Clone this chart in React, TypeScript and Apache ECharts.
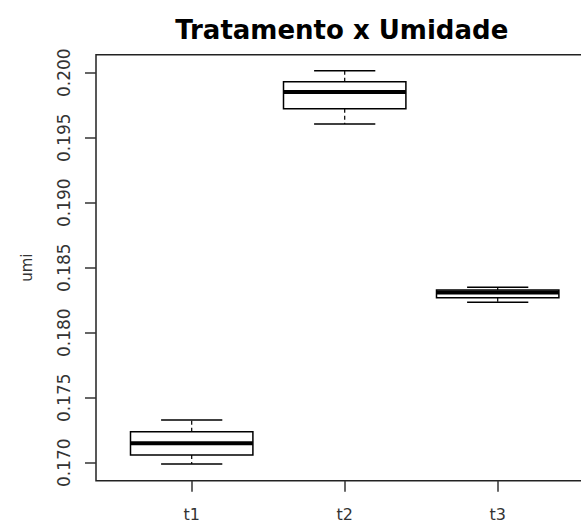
import React, { useEffect, useRef } from "react";
import * as echarts from "echarts";

// Treatment groups and their five-number summaries (humidity "umi")
const categories = ["t1", "t2", "t3"];
const whiskerLow = [0.1699, 0.19605, 0.18234];
const quartile1 = [0.17059, 0.19723, 0.18269];
const medians = [0.17149, 0.19852, 0.18309];
const quartile3 = [0.17238, 0.19931, 0.183285];
const whiskerHigh = [0.17328, 0.20015, 0.18349];

// Axis ticks
const yTicks = [0.17, 0.175, 0.18, 0.185, 0.19, 0.195, 0.2];
const xTicks = [1, 2, 3];

const FONT = "DejaVu Sans";
const INK = "#000";
const AXIS_INK = "#333";

export default function App() {
  const ref = useRef<HTMLDivElement>(null);

  useEffect(() => {
    if (!ref.current) return;
    const chart = echarts.init(ref.current, undefined, { renderer: "svg" });

    const boxData = categories.map((_, i) => [
      i + 1,
      whiskerLow[i],
      quartile1[i],
      medians[i],
      quartile3[i],
      whiskerHigh[i],
    ]);

    const renderBox = (params: any, api: any) => {
      const x = api.value(0);
      const low = api.coord([x, api.value(1)]);
      const q1 = api.coord([x, api.value(2)]);
      const med = api.coord([x, api.value(3)]);
      const q3 = api.coord([x, api.value(4)]);
      const high = api.coord([x, api.value(5)]);
      const boxW = api.size([0.8, 0])[0];
      const capW = boxW / 2;
      const cx = med[0];
      return {
        type: "group",
        children: [
          {
            type: "line",
            shape: { x1: cx, y1: q3[1], x2: cx, y2: high[1] },
            style: { stroke: INK, lineWidth: 1.2, lineDash: [4, 3] },
          },
          {
            type: "line",
            shape: { x1: cx, y1: q1[1], x2: cx, y2: low[1] },
            style: { stroke: INK, lineWidth: 1.2, lineDash: [4, 3] },
          },
          {
            type: "line",
            shape: { x1: cx - capW / 2, y1: high[1], x2: cx + capW / 2, y2: high[1] },
            style: { stroke: INK, lineWidth: 1.5 },
          },
          {
            type: "line",
            shape: { x1: cx - capW / 2, y1: low[1], x2: cx + capW / 2, y2: low[1] },
            style: { stroke: INK, lineWidth: 1.5 },
          },
          {
            type: "rect",
            shape: { x: cx - boxW / 2, y: q3[1], width: boxW, height: q1[1] - q3[1] },
            style: { fill: "#fff", stroke: INK, lineWidth: 1.5 },
          },
          {
            type: "line",
            shape: { x1: cx - boxW / 2, y1: med[1], x2: cx + boxW / 2, y2: med[1] },
            style: { stroke: INK, lineWidth: 4 },
          },
        ],
      };
    };

    chart.setOption({
      animation: false,
      backgroundColor: "#fff",
      textStyle: { fontFamily: FONT },
      title: {
        text: "Tratamento x Umidade",
        left: 341.7,
        textAlign: "center",
        top: 17,
        padding: 0,
        textStyle: { fontFamily: FONT, fontSize: 26, fontWeight: "bold", color: INK },
      },
      grid: {
        left: 96,
        top: 54.7,
        width: 500,
        height: 426,
        outerBoundsMode: "none",
        containLabel: false,
        show: true,
        borderColor: "#222",
        borderWidth: 1.5,
        backgroundColor: "transparent",
      },
      xAxis: {
        type: "value",
        min: 0.3745,
        max: 0.3745 + 500 / 153,
        axisLine: { show: false },
        splitLine: { show: false },
        axisTick: {
          show: true,
          customValues: xTicks,
          length: 11,
          lineStyle: { color: AXIS_INK, width: 1.5 },
        },
        axisLabel: {
          customValues: xTicks,
          formatter: (v: number) => categories[Math.round(v) - 1] ?? "",
          fontFamily: FONT,
          fontSize: 16,
          color: AXIS_INK,
          margin: 26,
        },
      },
      yAxis: {
        type: "value",
        name: "umi",
        nameLocation: "middle",
        nameRotate: 90,
        nameGap: 62,
        nameTextStyle: { fontFamily: FONT, fontSize: 15, color: AXIS_INK },
        min: 0.168615,
        max: 0.201385,
        axisLine: { show: false },
        splitLine: { show: false },
        axisTick: {
          show: true,
          customValues: yTicks,
          length: 11,
          lineStyle: { color: AXIS_INK, width: 1.5 },
        },
        axisLabel: {
          customValues: yTicks,
          rotate: 90,
          formatter: (v: number) => v.toFixed(3),
          fontFamily: FONT,
          fontSize: 17,
          color: AXIS_INK,
          margin: 24,
        },
      },
      series: [
        {
          type: "custom",
          renderItem: renderBox,
          encode: { x: 0, y: [1, 2, 3, 4, 5] },
          data: boxData,
          clip: false,
        },
      ],
    });

    return () => chart.dispose();
  }, []);

  return (
    <div
      ref={ref}
      style={{ position: "fixed", left: 0, top: 0, width: 581, height: 524, background: "#fff" }}
    />
  );
}
